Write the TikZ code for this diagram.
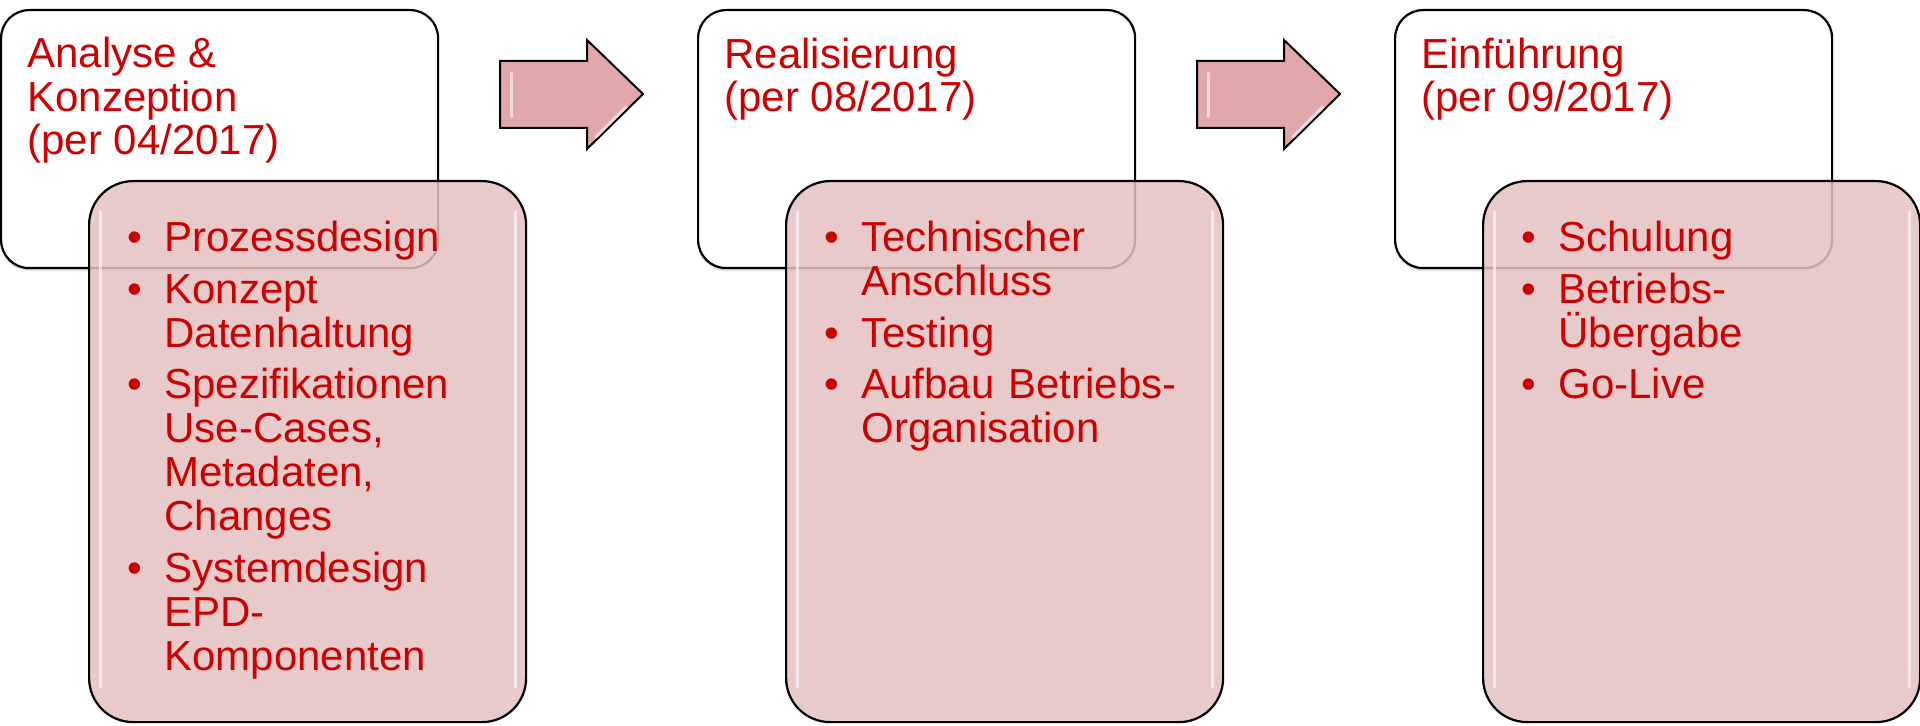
\documentclass[tikz,border=0pt]{standalone}
\usepackage{fontspec}
\setmainfont{Liberation Sans}
\usetikzlibrary{shadows}

\definecolor{phasered}{RGB}{204,0,0}
\definecolor{taskpink}{RGB}{228,193,194}
\definecolor{arrowpink}{RGB}{224,168,170}

% one bullet point with hanging indent
\newcommand{\phaseitem}[1]{\hangindent=18.5pt\hangafter=1\noindent\makebox[18.5pt][l]{•}#1\par}

\tikzset{
  headbox/.style={draw=black, line width=1.1pt, rounded corners=14pt, fill=white,
    minimum width=218.5pt, minimum height=129pt, anchor=north west,
    drop shadow={shadow xshift=0pt, shadow yshift=-1.5pt, opacity=0.25}},
  taskbox/.style={draw=black, line width=1.1pt, rounded corners=22pt, fill=taskpink,
    fill opacity=0.85, minimum width=218.5pt, minimum height=270.5pt, anchor=north west},
  headtext/.style={text=phasered, anchor=base west, align=left, inner sep=0pt,
    font=\fontsize{21}{21.9}\selectfont},
  tasktext/.style={text=phasered, anchor=base west, text width=200pt, align=left,
    inner sep=0pt, font=\fontsize{21}{22}\selectfont},
  gloss/.style={white, line width=1.5pt, opacity=0.6, line cap=round},
  blockarrow/.style={draw=black, line width=1pt, fill=arrowpink, line join=miter}
}

\begin{document}
\begin{tikzpicture}[x=0.5pt, y=-0.5pt]
  \useasboundingbox (0,0) rectangle (1920,726);

  % Phase boxes (white)
  \foreach \i in {0,1,2}
  {\node[headbox] (head\i) at (697*\i,9) {};}

  % Task boxes (pink, on top)
  \foreach \i in {0,1,2}
  {\node[taskbox] (task\i) at (697*\i+88,180) {};
   \draw[gloss] ([xshift=6pt,yshift=-16pt]task\i.north west) -- ([xshift=6pt,yshift=18pt]task\i.south west);
   \draw[gloss] ([xshift=-6pt,yshift=-16pt]task\i.north east) -- ([xshift=-6pt,yshift=18pt]task\i.south east);}

  % Block arrows between phases
  \foreach \i in {1,2}
  {\coordinate (arr\i) at (697*\i-197,61);
   \draw[blockarrow] (arr\i) -- ++(87,0) -- ++(0,-21) -- ++(56,54) -- ++(-56,55)
     -- ++(0,-21) -- ++(-87,0) -- cycle;
   \draw[gloss] ([shift={(11,12)}]arr\i) -- ++(0,44);
   \draw[gloss] ([shift={(96,76)}]arr\i) -- ++(30,-30);}

  % Phase titles
  \node[headtext] (title0) at (27,155) {Analyse \&\\Konzeption\\(per 04/2017)};
  \node[headtext] (title1) at (724,112) {Realisierung\\(per 08/2017)};
  \node[headtext] (title2) at (1421,112) {Einführung\\(per 09/2017)};

  % Task lists
  \node[tasktext] (list0) at (127,252) {\setlength{\parskip}{3.75pt}%
    \phaseitem{Prozessdesign}%
    \phaseitem{Konzept\newline Datenhaltung}%
    \phaseitem{Spezifikationen\newline Use-Cases,\newline Metadaten,\newline Changes}%
    \phaseitem{Systemdesign\newline EPD-\newline Komponenten}};
  \node[tasktext] (list1) at (824,252) {\setlength{\parskip}{3.75pt}%
    \phaseitem{Technischer\newline Anschluss}%
    \phaseitem{Testing}%
    \phaseitem{Aufbau Betriebs-\newline Organisation}};
  \node[tasktext] (list2) at (1521,252) {\setlength{\parskip}{3.75pt}%
    \phaseitem{Schulung}%
    \phaseitem{Betriebs-\newline Übergabe}%
    \phaseitem{Go-Live}};
\end{tikzpicture}
\end{document}
